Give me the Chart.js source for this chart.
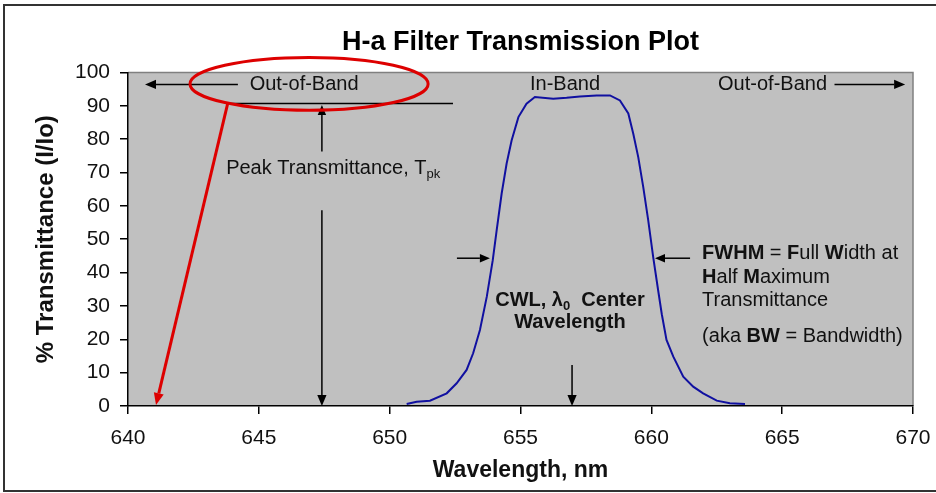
<!DOCTYPE html>
<html>
<head>
<meta charset="utf-8">
<title>H-a Filter Transmission Plot</title>
<script src="https://cdn.jsdelivr.net/npm/chart.js@4.4.1/dist/chart.umd.min.js"></script>
<style>
  html, body { margin: 0; padding: 0; background: #fff; }
  #wrap { width: 936px; height: 493px; }
</style>
</head>
<body>
<div id="wrap"><canvas id="chart" width="936" height="493"></canvas></div>
<script>
// values (nm, % transmittance)
var wavelengthNm = [650.65, 651.03, 651.54, 652.18, 652.56, 652.94, 653.19, 653.45, 653.71, 653.94,
                    654.09, 654.28, 654.47, 654.66, 654.92, 655.23, 655.55, 656.25, 656.76, 657.27,
                    657.91, 658.42, 658.80, 659.12, 659.31, 659.50, 659.69, 659.88, 660.07, 660.26,
                    660.40, 660.58, 660.84, 661.22, 661.60, 661.98, 662.50, 663.00, 663.58];
var transmittancePct = [0.6, 1.3, 1.6, 3.8, 6.8, 10.8, 15.8, 22.8, 32.7, 43.7,
                        52.7, 63.7, 72.7, 79.6, 86.6, 90.6, 92.6, 92.1, 92.4, 92.8,
                        93.1, 93.1, 91.6, 87.7, 81.6, 74.6, 65.7, 55.7, 44.7, 34.7,
                        27.5, 19.8, 14.8, 8.8, 5.8, 3.8, 1.6, 0.8, 0.6];
var xTicks = [640, 645, 650, 655, 660, 665, 670];
var yTicks = [0, 10, 20, 30, 40, 50, 60, 70, 80, 90, 100];

var FONT = '"Liberation Sans", Arial, sans-serif';
var INK = '#111';

function drawArrow(ctx, x1, y1, x2, y2, color, width, head) {
    var ang = Math.atan2(y2 - y1, x2 - x1);
    var bx = x2 - head * Math.cos(ang), by = y2 - head * Math.sin(ang);
    var w = head * 0.42;
    ctx.strokeStyle = color;
    ctx.fillStyle = color;
    ctx.lineWidth = width;
    ctx.beginPath();
    ctx.moveTo(x1, y1);
    ctx.lineTo(bx, by);
    ctx.stroke();
    ctx.beginPath();
    ctx.moveTo(x2, y2);
    ctx.lineTo(bx + w * Math.sin(ang), by - w * Math.cos(ang));
    ctx.lineTo(bx - w * Math.sin(ang), by + w * Math.cos(ang));
    ctx.closePath();
    ctx.fill();
}

// parts: [text, bold, subscript]
function drawRich(ctx, parts, x, y, align) {
    var size = 20, subSize = 13;
    var fonts = parts.map(function(p) {
        return (p[1] ? 'bold ' : '') + (p[2] ? subSize : size) + 'px ' + FONT;
    });
    var widths = parts.map(function(p, i) {
        ctx.font = fonts[i];
        return ctx.measureText(p[0]).width;
    });
    var total = widths.reduce(function(a, b) { return a + b; }, 0);
    var cx = align === 'center' ? x - total / 2 : x;
    ctx.fillStyle = INK;
    ctx.textAlign = 'left';
    ctx.textBaseline = 'middle';
    parts.forEach(function(p, i) {
        ctx.font = fonts[i];
        ctx.fillText(p[0], cx, p[2] ? y + 6 : y);
        cx += widths[i];
    });
}

// grey plot area and the outer frame
var plotBackground = {
    id: 'plotBackground',
    beforeDraw: function(chart) {
        var ctx = chart.ctx, a = chart.chartArea;
        ctx.save();
        ctx.fillStyle = '#fff';
        ctx.fillRect(0, 0, chart.width, chart.height);
        ctx.fillStyle = '#c0c0c0';
        ctx.fillRect(a.left, a.top, a.right - a.left, a.bottom - a.top);
        ctx.strokeStyle = '#808080';
        ctx.lineWidth = 1.5;
        ctx.beginPath();
        ctx.moveTo(a.left, a.top);
        ctx.lineTo(a.right, a.top);
        ctx.lineTo(a.right, a.bottom);
        ctx.stroke();
        ctx.strokeStyle = '#333';
        ctx.lineWidth = 2;
        ctx.strokeRect(4, 5, 960, 486);
        ctx.restore();
    }
};

// arrows, labels and the red call-out, placed in data units
var notes = {
    id: 'notes',
    afterDraw: function(chart) {
        var ctx = chart.ctx, xs = chart.scales.x, ys = chart.scales.y;
        var X = function(v) { return xs.getPixelForValue(v); };
        var Y = function(v) { return ys.getPixelForValue(v); };
        ctx.save();

        // band labels
        drawArrow(ctx, X(644.2), Y(96.4), X(640.65), Y(96.4), '#000', 1.5, 11);
        drawRich(ctx, [['Out-of-Band']], X(646.73), Y(96.4), 'center');
        drawRich(ctx, [['In-Band']], X(656.7), Y(96.4), 'center');
        drawRich(ctx, [['Out-of-Band']], X(662.55), Y(96.4), 'left');
        drawArrow(ctx, X(667.0), Y(96.4), X(669.7), Y(96.4), '#000', 1.5, 11);

        // peak transmittance
        ctx.strokeStyle = '#000';
        ctx.lineWidth = 1.5;
        ctx.beginPath();
        ctx.moveTo(X(643.9), Y(90.7));
        ctx.lineTo(X(652.42), Y(90.7));
        ctx.stroke();
        drawArrow(ctx, X(647.41), Y(76.3), X(647.41), Y(90.2), '#000', 1.5, 10);
        drawRich(ctx, [['Peak Transmittance, T'], ['pk', false, true]], X(643.75), Y(71.3), 'left');
        drawArrow(ctx, X(647.41), Y(58.7), X(647.41), Y(0), '#000', 1.5, 11);

        // FWHM
        drawArrow(ctx, X(652.57), Y(44.3), X(653.83), Y(44.3), '#000', 1.5, 10);
        drawArrow(ctx, X(661.48), Y(44.3), X(660.14), Y(44.3), '#000', 1.5, 10);
        drawRich(ctx, [['FWHM', true], [' = '], ['F', true], ['ull '], ['W', true], ['idth at']], X(661.94), Y(45.8), 'left');
        drawRich(ctx, [['H', true], ['alf '], ['M', true], ['aximum']], X(661.94), Y(38.6), 'left');
        drawRich(ctx, [['Transmittance']], X(661.94), Y(31.7), 'left');
        drawRich(ctx, [['(aka '], ['BW', true], [' = Bandwidth)']], X(661.94), Y(20.7), 'left');

        // centre wavelength
        drawRich(ctx, [['CWL, \u03bb', true], ['0', true, true], ['  Center', true]], X(656.89), Y(31.7), 'center');
        drawRich(ctx, [['Wavelength', true]], X(656.89), Y(24.9), 'center');
        drawArrow(ctx, X(656.97), Y(12.3), X(656.97), Y(0), '#000', 1.5, 11);

        // red call-out
        var ex = X(646.92), ey = Y(96.56);
        ctx.strokeStyle = '#dd0000';
        ctx.lineWidth = 3;
        ctx.beginPath();
        ctx.ellipse(ex, ey, X(646.92 + 4.55) - ex, ey - Y(96.56 + 7.93), 0, 0, Math.PI * 2);
        ctx.stroke();
        drawArrow(ctx, X(643.82), Y(91.0), X(641.07), Y(0.3), '#dd0000', 3, 12);

        ctx.restore();
    }
};

var chart = new Chart(document.getElementById('chart').getContext('2d'), {
    type: 'scatter',
    data: {
        datasets: [{
            data: wavelengthNm.map(function(w, i) { return {x: w, y: transmittancePct[i]}; }),
            showLine: true,
            borderColor: '#1010a0',
            borderWidth: 2,
            pointRadius: 0,
            tension: 0,
            fill: false
        }]
    },
    options: {
        responsive: false,
        animation: false,
        layout: { padding: { left: 0, right: 23, top: 0, bottom: 0 } },
        plugins: {
            legend: { display: false },
            tooltip: { enabled: false },
            title: {
                display: true,
                fullSize: false,
                text: 'H-a Filter Transmission Plot',
                color: '#000',
                font: { family: FONT, size: 27, weight: 'bold' },
                padding: { top: 26, bottom: 14 }
            }
        },
        scales: {
            x: {
                type: 'linear',
                min: 640,
                max: 670,
                afterBuildTicks: function(s) { s.ticks = xTicks.map(function(v) { return {value: v}; }); },
                afterFit: function(s) { s.height = 87; s.paddingLeft = 0; s.paddingRight = 0; },
                ticks: { color: INK, font: { family: FONT, size: 21 }, padding: 12, maxRotation: 0, autoSkip: false },
                grid: { drawOnChartArea: false, drawTicks: true, tickLength: 8, color: '#000', lineWidth: 1.5 },
                border: { display: true, color: '#000', width: 1.5 },
                title: {
                    display: true,
                    text: 'Wavelength, nm',
                    color: INK,
                    font: { family: FONT, size: 23, weight: 'bold' },
                    padding: { top: 0, bottom: 9 }
                }
            },
            y: {
                min: 0,
                max: 100,
                afterBuildTicks: function(s) { s.ticks = yTicks.map(function(v) { return {value: v}; }); },
                afterFit: function(s) { s.width = 128; },
                ticks: { color: INK, font: { family: FONT, size: 21 }, padding: 10 },
                grid: { drawOnChartArea: false, drawTicks: true, tickLength: 8, color: '#000', lineWidth: 1.5 },
                border: { display: true, color: '#000', width: 1.5 },
                title: {
                    display: true,
                    text: '% Transmittance (I/Io)',
                    color: INK,
                    font: { family: FONT, size: 24, weight: 'bold' },
                    padding: { top: 32, bottom: 0 }
                }
            }
        }
    },
    plugins: [plotBackground, notes]
});
</script>
</body>
</html>
